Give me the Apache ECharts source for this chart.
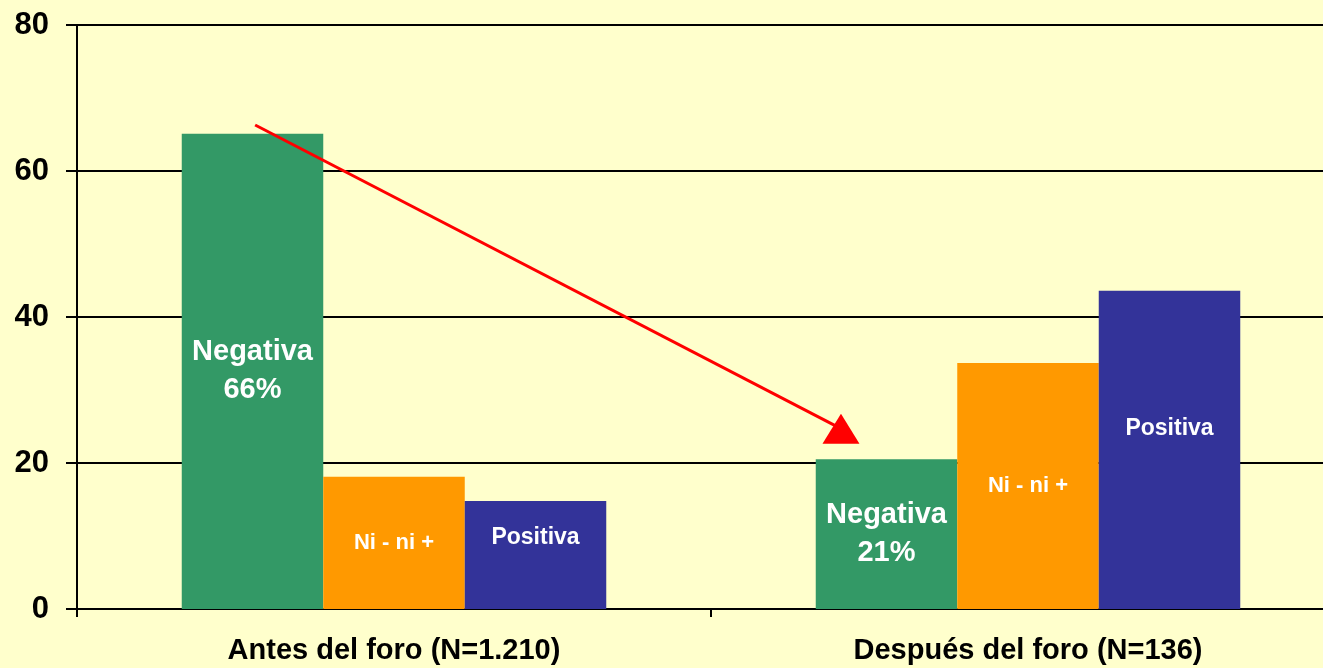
<!DOCTYPE html>
<html>
<head>
<meta charset="utf-8">
<script src="https://cdn.jsdelivr.net/npm/echarts@6/dist/echarts.min.js"></script>
<style>
html,body{margin:0;padding:0;background:#FFFFCC;overflow:hidden;width:1323px;height:668px;}
#chart{width:1345px;height:668px;}
</style>
</head>
<body>
<div id="chart"></div>
<script>
// ---- data ----
var categories = ['Antes del foro (N=1.210)', 'Después del foro (N=136)'];
var negativa = [65.1, 20.5];
var ninini = [18.1, 33.7];
var positiva = [14.8, 43.6];
var negativaPct = ['66%', '21%'];
var yTicks = [0, 20, 40, 60, 80];
// arrow annotation (x in category units 0..2, y in value units)
var arrowX = [0.281, 1.205];
var arrowY = [66.3, 24.7];

var FONT = 'Liberation Sans, Arial, sans-serif';
var chart = echarts.init(document.getElementById('chart'), null, {renderer: 'canvas'});

var option = {
  backgroundColor: '#FFFFCC',
  animation: false,
  grid: {left: 77, right: 0, top: 25, bottom: 59, containLabel: false},
  xAxis: [{
    type: 'category',
    data: categories,
    boundaryGap: true,
    axisLine: {lineStyle: {color: '#000', width: 2}},
    axisTick: {show: true, length: 8, lineStyle: {color: '#000', width: 2}},
    axisLabel: {color: '#000', fontFamily: FONT, fontWeight: 'bold', fontSize: 29, margin: 27}
  }, {
    type: 'value', min: 0, max: 2, show: false
  }],
  yAxis: {
    type: 'value',
    min: yTicks[0], max: yTicks[yTicks.length - 1], interval: 20,
    axisLine: {show: true, lineStyle: {color: '#000', width: 2}},
    axisTick: {show: true, length: 11, lineStyle: {color: '#000', width: 2}},
    splitLine: {show: true, lineStyle: {color: '#000', width: 2}},
    axisLabel: {color: '#000', fontFamily: FONT, fontWeight: 'bold', fontSize: 31, margin: 28}
  },
  series: [{
    name: 'Negativa', type: 'bar', barWidth: 141.5, barGap: '0%',
    itemStyle: {color: '#339966'},
    data: negativa.map(function (v, i) {
      return {value: v, label: {formatter: 'Negativa\n' + negativaPct[i]}};
    }),
    label: {show: true, position: 'inside', color: '#fff', fontFamily: FONT, fontWeight: 'bold', fontSize: 29, lineHeight: 38}
  }, {
    name: 'Ni - ni +', type: 'bar', barWidth: 141.5, barGap: '0%',
    itemStyle: {color: '#FF9900'},
    data: ninini,
    label: {show: true, position: 'inside', formatter: 'Ni - ni +', color: '#fff', fontFamily: FONT, fontWeight: 'bold', fontSize: 22}
  }, {
    name: 'Positiva', type: 'bar', barWidth: 141.5, barGap: '0%',
    itemStyle: {color: '#333399'},
    data: positiva.map(function (v, i) {
      return {value: v, label: {offset: [0, i === 0 ? -17 : -21]}};
    }),
    label: {show: true, position: 'inside', formatter: 'Positiva', color: '#fff', fontFamily: FONT, fontWeight: 'bold', fontSize: 23}
  }, {
    name: 'arrow', type: 'line', xAxisIndex: 1, z: 10,
    lineStyle: {color: '#FF0000', width: 3},
    itemStyle: {color: '#FF0000'},
    showSymbol: true,
    silent: true,
    data: [
      {value: [arrowX[0], arrowY[0]], symbol: 'none'},
      {value: [arrowX[1], arrowY[1]], symbol: 'triangle', symbolSize: [37, 30]}
    ]
  }]
};
chart.setOption(option);
</script>
</body>
</html>
